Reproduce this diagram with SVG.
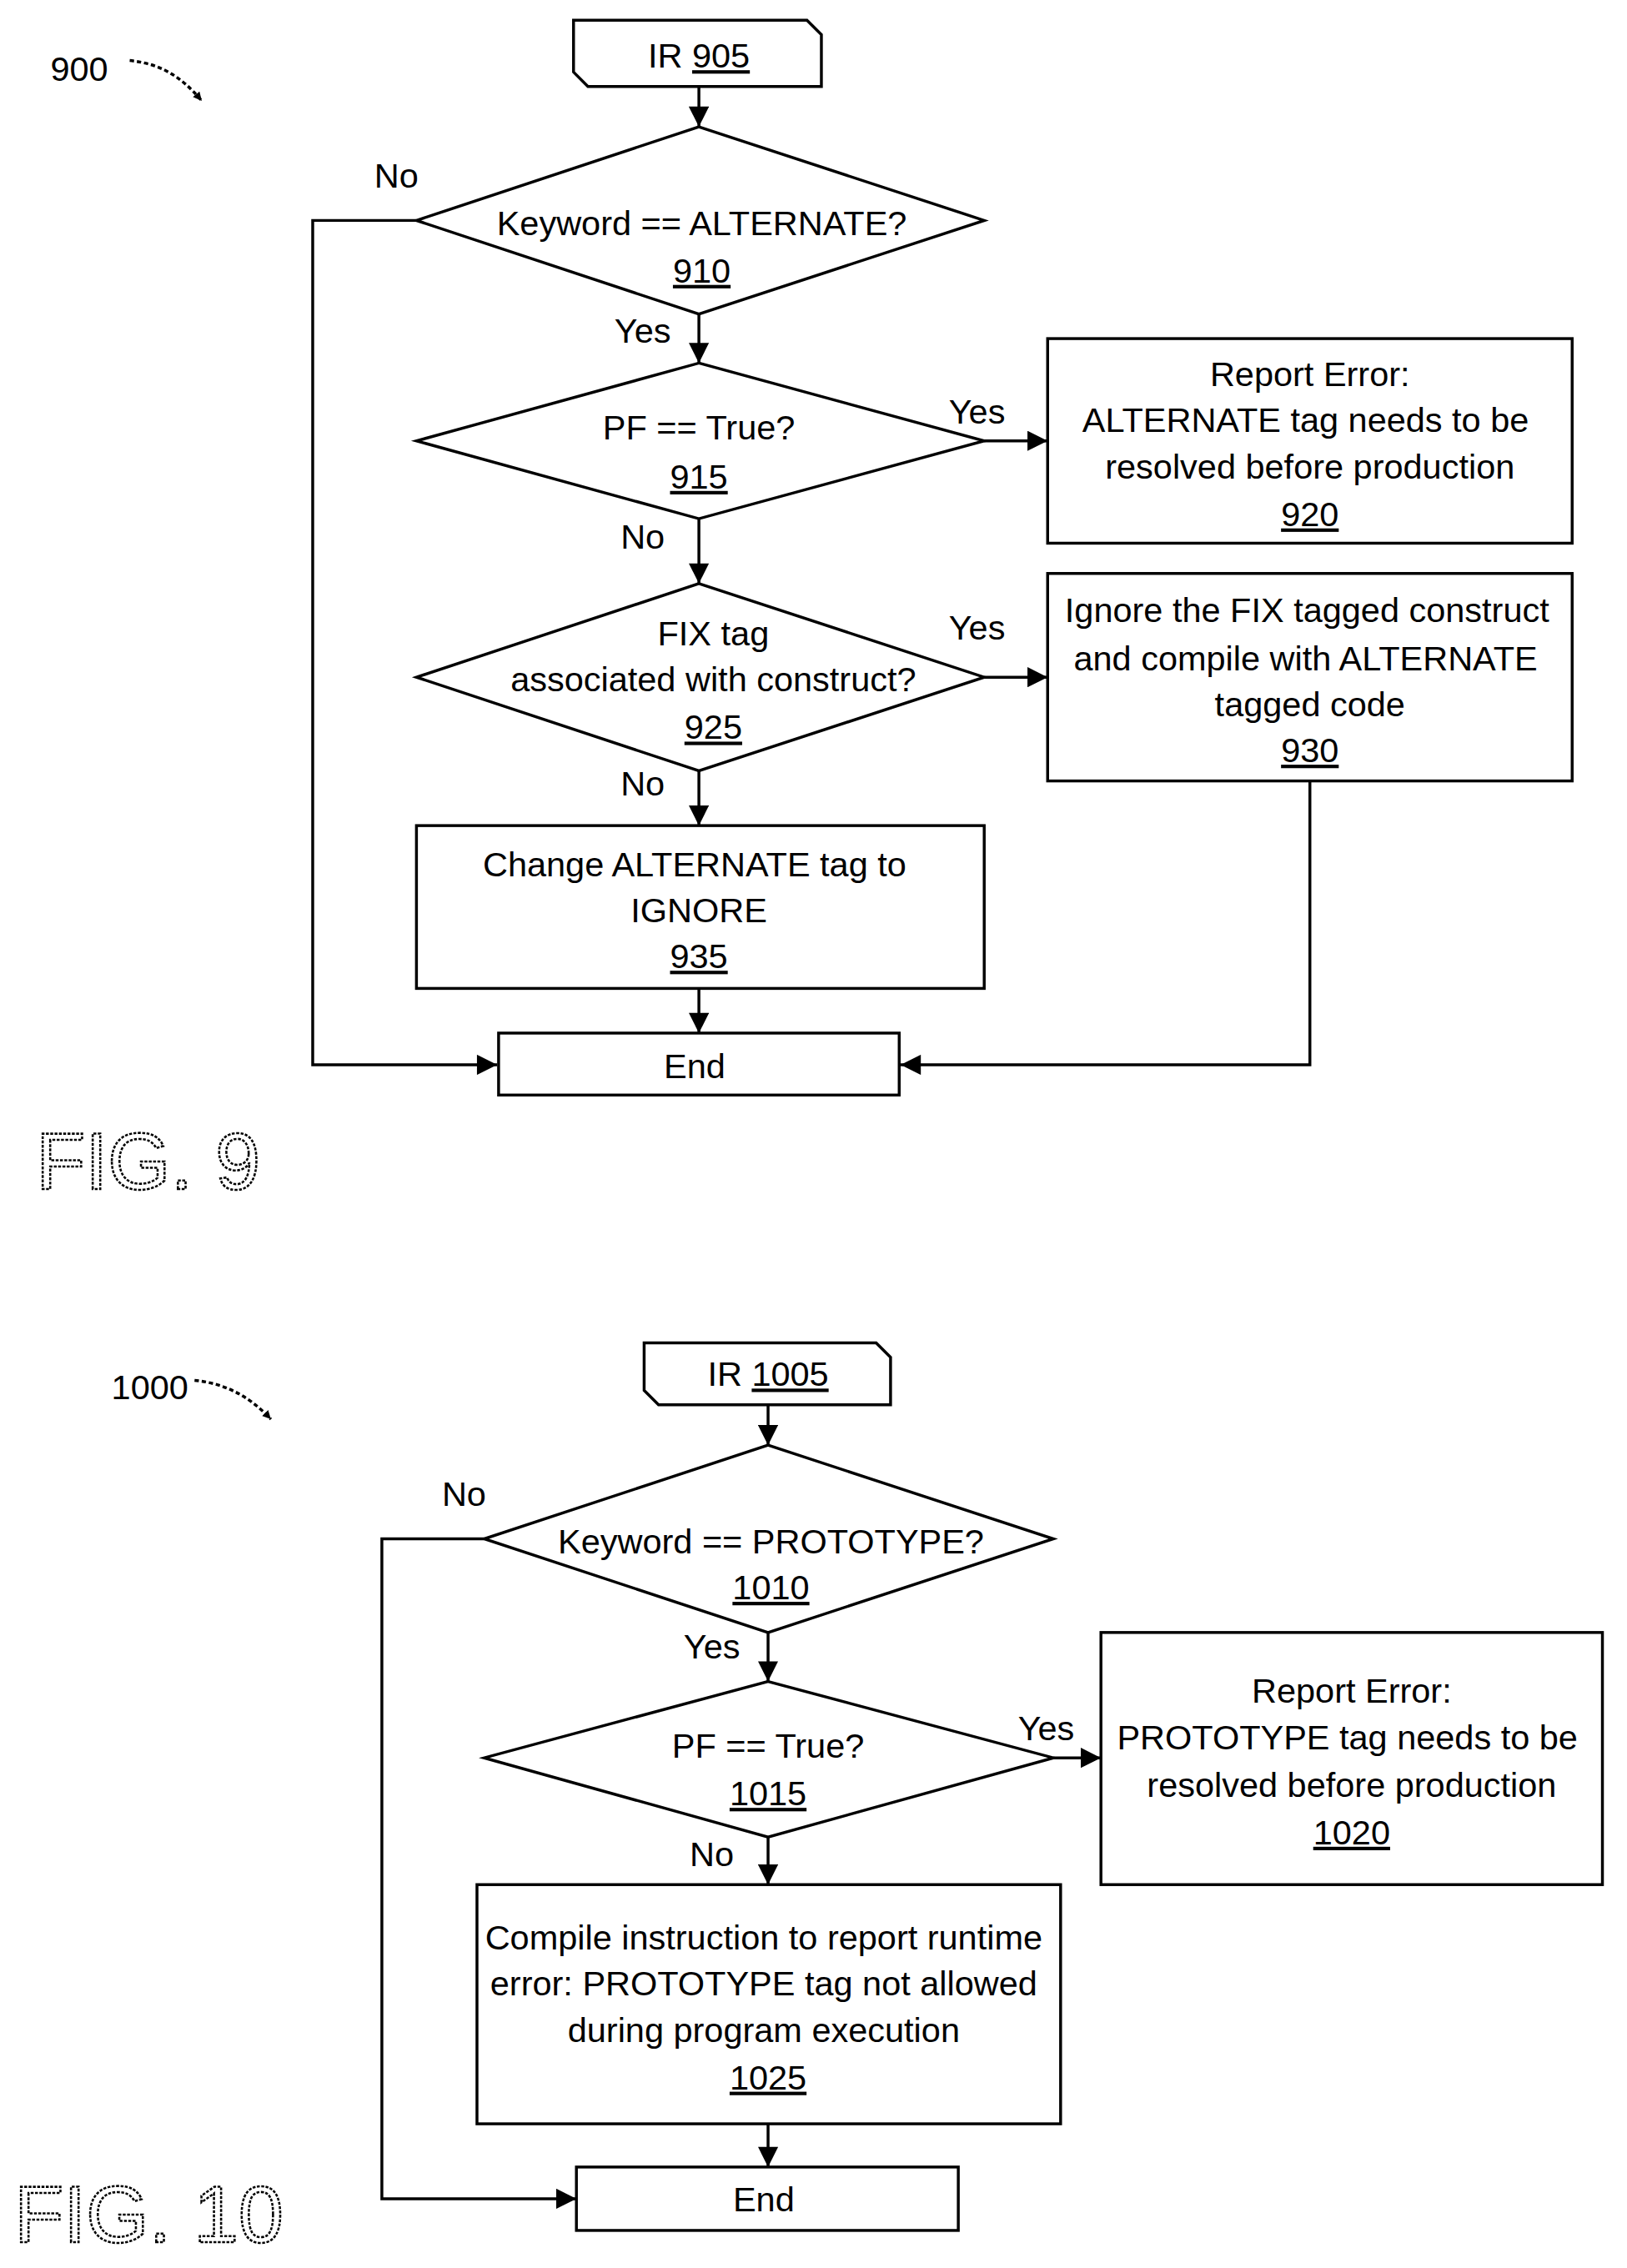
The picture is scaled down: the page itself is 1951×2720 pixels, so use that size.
<svg xmlns="http://www.w3.org/2000/svg" width="1951" height="2720" viewBox="0 0 1951 2720">
<style>
text{font-family:"Liberation Sans",Arial,sans-serif;font-size:24px;fill:#000;text-anchor:middle}
.u{text-decoration:underline}
.s{fill:#fff;stroke:#000;stroke-width:2}
.c{fill:none;stroke:#000;stroke-width:2}
.fig{font-size:56px;fill:#fff;stroke:#000;stroke-width:1.5;stroke-dasharray:2 1;text-anchor:start}
</style>
<defs>
<marker id="a" viewBox="0 0 10 10" refX="10" refY="5" markerWidth="16" markerHeight="14" markerUnits="userSpaceOnUse" orient="auto"><path d="M0,0L10,5L0,10z" fill="#000"/></marker>
<marker id="a2" viewBox="0 0 10 10" refX="10" refY="5" markerWidth="6" markerHeight="6" markerUnits="userSpaceOnUse" orient="auto"><path d="M0,0L10,5L0,10z" fill="#000"/></marker>
</defs>
<g transform="scale(1.728)">
<g id="connectors">
<path class="c" d="M90,42 C110,44 125,52 140,70" stroke-dasharray="3 2" marker-end="url(#a2)"/>
<path class="c" d="M485,60V88" marker-end="url(#a)"/>
<path class="c" d="M289,153H217V739H345" marker-end="url(#a)"/>
<path class="c" d="M485,218V252" marker-end="url(#a)"/>
<path class="c" d="M683,306H727" marker-end="url(#a)"/>
<path class="c" d="M485,360V405" marker-end="url(#a)"/>
<path class="c" d="M683,470H727" marker-end="url(#a)"/>
<path class="c" d="M485,535V573" marker-end="url(#a)"/>
<path class="c" d="M485,686V717" marker-end="url(#a)"/>
<path class="c" d="M909,542V739H625" marker-end="url(#a)"/>
<path class="c" d="M135,958 C155,960 172,968 188,985" stroke-dasharray="3 2" marker-end="url(#a2)"/>
<path class="c" d="M533,975V1003" marker-end="url(#a)"/>
<path class="c" d="M336,1068H265V1526H400" marker-end="url(#a)"/>
<path class="c" d="M533,1133V1167" marker-end="url(#a)"/>
<path class="c" d="M731,1220H764" marker-end="url(#a)"/>
<path class="c" d="M533,1275V1308" marker-end="url(#a)"/>
<path class="c" d="M533,1474V1504" marker-end="url(#a)"/>
<text x="275" y="130">No</text><text x="446" y="238">Yes</text><text x="678" y="294">Yes</text>
<text x="446" y="381">No</text><text x="678" y="444">Yes</text><text x="446" y="552">No</text>
<text x="322" y="1045">No</text><text x="494" y="1151">Yes</text><text x="726" y="1208">Yes</text><text x="494" y="1295">No</text>
</g>
<text x="55" y="56">900</text>
<text x="104" y="971">1000</text>
<g id="n905"><path class="s" d="M398,14H560L570,24V60H408L398,50Z"/><text x="485" y="47">IR <tspan class="u">905</tspan></text></g>
<g id="n910"><path class="s" d="M485,88L683,153L485,218L289,153Z"/><text x="487" y="163">Keyword == ALTERNATE?</text><text class="u" x="487" y="196">910</text></g>
<g id="n915"><path class="s" d="M485,252L683,306L485,360L289,306Z"/><text x="485" y="305">PF == True?</text><text class="u" x="485" y="339">915</text></g>
<g id="n920"><rect class="s" x="727" y="235" width="364" height="142"/><text x="909" y="268">Report Error:</text><text x="906" y="300">ALTERNATE tag needs to be</text><text x="909" y="332">resolved before production</text><text class="u" x="909" y="365">920</text></g>
<g id="n925"><path class="s" d="M485,405L683,470L485,535L289,470Z"/><text x="495" y="448">FIX tag</text><text x="495" y="480">associated with construct?</text><text class="u" x="495" y="513">925</text></g>
<g id="n930"><rect class="s" x="727" y="398" width="364" height="144"/><text x="907" y="432">Ignore the FIX tagged construct</text><text x="906" y="465">and compile with ALTERNATE</text><text x="909" y="497">tagged code</text><text class="u" x="909" y="529">930</text></g>
<g id="n935"><rect class="s" x="289" y="573" width="394" height="113"/><text x="482" y="608">Change ALTERNATE tag to</text><text x="485" y="640">IGNORE</text><text class="u" x="485" y="672">935</text></g>
<g id="n940"><rect class="s" x="346" y="717" width="278" height="43"/><text x="482" y="748">End</text></g>
<text class="fig" x="25" y="825">FIG. 9</text>
<g id="n1005"><path class="s" d="M447,932H608L618,942V975H457L447,965Z"/><text x="533" y="962">IR <tspan class="u">1005</tspan></text></g>
<g id="n1010"><path class="s" d="M533,1003L731,1068L533,1133L336,1068Z"/><text x="535" y="1078">Keyword == PROTOTYPE?</text><text class="u" x="535" y="1110">1010</text></g>
<g id="n1015"><path class="s" d="M533,1167L731,1220L533,1275L336,1220Z"/><text x="533" y="1220">PF == True?</text><text class="u" x="533" y="1253">1015</text></g>
<g id="n1020"><rect class="s" x="764" y="1133" width="348" height="175"/><text x="938" y="1182">Report Error:</text><text x="935" y="1214">PROTOTYPE tag needs to be</text><text x="938" y="1247">resolved before production</text><text class="u" x="938" y="1280">1020</text></g>
<g id="n1025"><rect class="s" x="331" y="1308" width="405" height="166"/><text x="530" y="1353">Compile instruction to report runtime</text><text x="530" y="1385">error: PROTOTYPE tag not allowed</text><text x="530" y="1417">during program execution</text><text class="u" x="533" y="1450">1025</text></g>
<g id="n1030"><rect class="s" x="400" y="1504" width="265" height="44"/><text x="530" y="1535">End</text></g>
<text class="fig" x="10" y="1556">FIG. 10</text>
</g>
</svg>
